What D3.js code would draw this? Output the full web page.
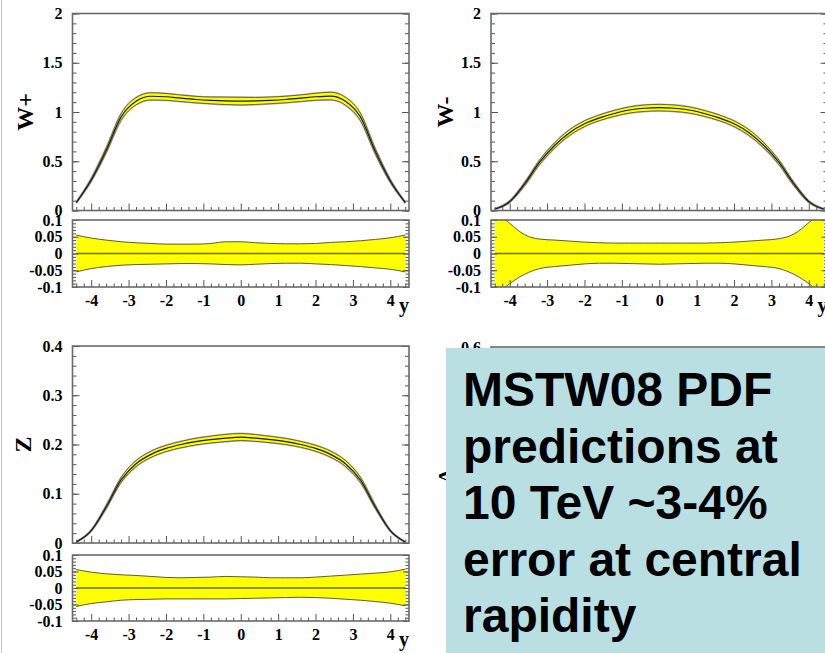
<!DOCTYPE html>
<html>
<head>
<meta charset="utf-8">
<script src="https://cdn.jsdelivr.net/npm/d3@7"></script>
<style>
  html, body { margin: 0; padding: 0; background: #fff; }
  svg { display: block; }
</style>
</head>
<body>
<svg id="chart" width="825" height="653"></svg>
<script>
// Boson rapidity y
const rapidity = [-4.4, -4.0, -3.6, -3.2, -2.8, -2.4, -2.0, -1.6, -1.2, -0.8, -0.4, 0,
                  0.4, 0.8, 1.2, 1.6, 2.0, 2.4, 2.8, 3.2, 3.6, 4.0, 4.4];

// Central predictions dσ/dy
const wPlus  = [0.08, 0.31, 0.61, 0.95, 1.11, 1.16, 1.155, 1.14, 1.127, 1.118, 1.112, 1.11,
                1.112, 1.118, 1.127, 1.14, 1.155, 1.162, 1.11, 0.95, 0.60, 0.30, 0.08];
const wMinus = [0.015, 0.09, 0.27, 0.49, 0.66, 0.79, 0.88, 0.94, 0.985, 1.02, 1.038, 1.045,
                1.038, 1.02, 0.985, 0.94, 0.88, 0.79, 0.66, 0.49, 0.27, 0.09, 0.015];
const zBoson = [0.002, 0.025, 0.073, 0.128, 0.161, 0.18, 0.192, 0.2, 0.206, 0.21, 0.213, 0.215,
                0.213, 0.21, 0.206, 0.2, 0.192, 0.18, 0.161, 0.128, 0.073, 0.025, 0.002];

// Relative PDF uncertainties (upper / lower)
const wPlusErrUp    = [0.055, 0.046, 0.040, 0.035, 0.032, 0.030, 0.028, 0.028, 0.028, 0.030, 0.035, 0.035,
                       0.032, 0.030, 0.029, 0.029, 0.030, 0.033, 0.035, 0.038, 0.042, 0.047, 0.055];
const wPlusErrDown  = [0.055, 0.045, 0.039, 0.035, 0.033, 0.032, 0.031, 0.030, 0.030, 0.031, 0.033, 0.034,
                       0.032, 0.030, 0.029, 0.029, 0.031, 0.033, 0.036, 0.039, 0.043, 0.047, 0.055];
const wMinusErrUp   = [0.13, 0.090, 0.056, 0.043, 0.040, 0.037, 0.034, 0.032, 0.031, 0.031, 0.031, 0.031,
                       0.031, 0.031, 0.031, 0.032, 0.034, 0.037, 0.040, 0.044, 0.058, 0.092, 0.13];
const wMinusErrDown = [0.13, 0.090, 0.062, 0.045, 0.039, 0.035, 0.031, 0.029, 0.029, 0.030, 0.031, 0.032,
                       0.031, 0.030, 0.029, 0.029, 0.031, 0.035, 0.039, 0.045, 0.062, 0.090, 0.13];
const zErrUp        = [0.056, 0.048, 0.043, 0.040, 0.038, 0.035, 0.032, 0.031, 0.032, 0.033, 0.035, 0.034,
                       0.033, 0.031, 0.031, 0.031, 0.033, 0.036, 0.039, 0.042, 0.045, 0.049, 0.057];
const zErrDown      = [0.056, 0.047, 0.042, 0.037, 0.035, 0.034, 0.033, 0.033, 0.033, 0.033, 0.033, 0.032,
                       0.031, 0.030, 0.029, 0.028, 0.029, 0.031, 0.034, 0.037, 0.041, 0.046, 0.054];

// Axis ticks and labels
const xTicks        = [-4, -3, -2, -1, 0, 1, 2, 3, 4];
const xTickLabels   = ["-4", "-3", "-2", "-1", "0", "1", "2", "3", "4"];
const wTicks        = [0, 0.5, 1, 1.5, 2];
const wTickLabels   = ["0", "0.5", "1", "1.5", "2"];
const zTicks        = [0, 0.1, 0.2, 0.3, 0.4];
const zTickLabels   = ["0", "0.1", "0.2", "0.3", "0.4"];
const ratioTicks    = [-0.1, -0.05, 0, 0.05, 0.1];
const ratioLabels   = ["-0.1", "-0.05", "0", "0.05", "0.1"];

const noteLines = ["MSTW08 PDF", "predictions at", "10 TeV ~3-4%", "error at central", "rapidity"];

const panels = [
  { title: "W+", titleX: 33, centre: wPlus, up: wPlusErrUp, down: wPlusErrDown,
    yMax: 2, yTicks: wTicks, yLabels: wTickLabels, yMinor: 0.1,
    left: 72.5, right: 409, mainTop: 13.5, mainBottom: 210.5, ratioTop: 220, ratioBottom: 287 },
  { title: "W-", titleX: 453, centre: wMinus, up: wMinusErrUp, down: wMinusErrDown,
    yMax: 2, yTicks: wTicks, yLabels: wTickLabels, yMinor: 0.1,
    left: 491, right: 827.5, mainTop: 13.5, mainBottom: 210.5, ratioTop: 220, ratioBottom: 287 },
  { title: "Z", titleX: 31, centre: zBoson, up: zErrUp, down: zErrDown,
    yMax: 0.4, yTicks: zTicks, yLabels: zTickLabels, yMinor: 0.02,
    left: 72.5, right: 409, mainTop: 346, mainBottom: 543, ratioTop: 555, ratioBottom: 621 }
];

const svg = d3.select("#chart");
const serif = "'Liberation Serif', 'Times New Roman', serif";
const labelSize = 16;
const frameColor = "#6a6a6a";
const tickColor = "#555";

// thin page edge on the left
svg.append("line").attr("x1", 1.5).attr("x2", 1.5).attr("y1", 0).attr("y2", 653)
  .attr("stroke", "#c4c4c4").attr("stroke-width", 1);

function styleAxis(sel) {
  sel.select(".domain").remove();
  sel.selectAll(".tick line").attr("stroke", tickColor).attr("stroke-width", 1);
  sel.selectAll(".tick text")
    .attr("font-family", serif).attr("font-weight", "bold").attr("font-size", labelSize).attr("fill", "#000");
  sel.attr("font-family", null).attr("font-size", null);
}

function yAxes(g, scale, left, right, major, labels, minorValues, majorLen, minorLen) {
  g.append("g").attr("transform", `translate(${left},0)`)
    .call(d3.axisLeft(scale).tickValues(minorValues).tickSize(-minorLen).tickFormat(""))
    .call(styleAxis);
  g.append("g").attr("transform", `translate(${left},0)`)
    .call(d3.axisLeft(scale).tickValues(major).tickSize(-majorLen).tickPadding(10)
      .tickFormat((d, i) => labels[i]))
    .call(styleAxis);
  g.append("g").attr("transform", `translate(${right},0)`)
    .call(d3.axisRight(scale).tickValues(minorValues).tickSize(-minorLen).tickFormat(""))
    .call(styleAxis);
  g.append("g").attr("transform", `translate(${right},0)`)
    .call(d3.axisRight(scale).tickValues(major).tickSize(-majorLen).tickFormat(""))
    .call(styleAxis);
}

function xAxis(g, scale, bottom, withLabels) {
  const minor = d3.range(-4.4, 4.5, 0.2).map(v => Math.round(v * 10) / 10)
    .filter(v => Math.abs(v - Math.round(v)) > 1e-6);
  g.append("g").attr("transform", `translate(0,${bottom})`)
    .call(d3.axisBottom(scale).tickValues(minor).tickSize(-3.5).tickFormat(""))
    .call(styleAxis);
  g.append("g").attr("transform", `translate(0,${bottom})`)
    .call(d3.axisBottom(scale).tickValues(xTicks).tickSize(-7).tickPadding(8)
      .tickFormat((d, i) => withLabels ? xTickLabels[i] : ""))
    .call(styleAxis);
}

panels.forEach((p, idx) => {
  const g = svg.append("g");
  const x = d3.scaleLinear().domain([-4.5, 4.5]).range([p.left, p.right]);
  const y = d3.scaleLinear().domain([0, p.yMax]).range([p.mainBottom, p.mainTop]);
  const r = d3.scaleLinear().domain([-0.1, 0.1]).range([p.ratioBottom, p.ratioTop]);

  const pts = rapidity.map((v, k) => ({ y: v, c: p.centre[k], u: p.up[k], d: p.down[k] }));
  const curve = d3.curveMonotoneX;

  const defs = svg.append("defs");
  defs.append("clipPath").attr("id", `clipMain${idx}`).append("rect")
    .attr("x", p.left).attr("y", p.mainTop).attr("width", p.right - p.left).attr("height", p.mainBottom - p.mainTop);
  defs.append("clipPath").attr("id", `clipRatio${idx}`).append("rect")
    .attr("x", p.left).attr("y", p.ratioTop).attr("width", p.right - p.left).attr("height", p.ratioBottom - p.ratioTop);

  // ---- main pad: prediction with PDF band
  const main = g.append("g").attr("clip-path", `url(#clipMain${idx})`);
  const upperLine = d3.line().x(d => x(d.y)).y(d => y(d.c * (1 + d.u))).curve(curve);
  const lowerLine = d3.line().x(d => x(d.y)).y(d => y(d.c * (1 - d.d))).curve(curve);
  const centreLine = d3.line().x(d => x(d.y)).y(d => y(d.c)).curve(curve);
  const band = d3.area().x(d => x(d.y))
    .y0(d => y(d.c * (1 - d.d))).y1(d => y(d.c * (1 + d.u))).curve(curve);

  [upperLine, lowerLine].forEach(l => main.append("path").attr("d", l(pts))
    .attr("fill", "none").attr("stroke", "#b8b8b8").attr("stroke-width", 2));
  main.append("path").attr("d", band(pts)).attr("fill", "#ffff00");
  [upperLine, lowerLine].forEach(l => main.append("path").attr("d", l(pts))
    .attr("fill", "none").attr("stroke", "#444").attr("stroke-width", 0.8));
  main.append("path").attr("d", centreLine(pts))
    .attr("fill", "none").attr("stroke", "#1a1a1a").attr("stroke-width", 1.2);

  // ---- ratio pad: relative uncertainty
  const ratio = g.append("g").attr("clip-path", `url(#clipRatio${idx})`);
  const rBand = d3.area().x(d => x(d.y)).y0(d => r(-d.d)).y1(d => r(d.u)).curve(curve);
  const rUp = d3.line().x(d => x(d.y)).y(d => r(d.u)).curve(curve);
  const rDown = d3.line().x(d => x(d.y)).y(d => r(-d.d)).curve(curve);
  ratio.append("path").attr("d", rBand(pts)).attr("fill", "#ffff00")
    .attr("stroke", "#ffff00").attr("stroke-width", 0.5);
  [rUp, rDown].forEach(l => ratio.append("path").attr("d", l(pts))
    .attr("fill", "none").attr("stroke", "#4a4a4a").attr("stroke-width", 0.9));
  ratio.append("line")
    .attr("x1", x(rapidity[0])).attr("x2", x(rapidity[rapidity.length - 1]))
    .attr("y1", r(0)).attr("y2", r(0))
    .attr("stroke", "#6b6b00").attr("stroke-width", 1.6);

  // ---- axes
  const minorMain = d3.range(0, p.yMax + 1e-9, p.yMinor).map(v => +v.toFixed(3));
  yAxes(g, y, p.left, p.right, p.yTicks, p.yLabels, minorMain, 7, 4);
  xAxis(g, x, p.mainBottom, false);

  const minorRatio = d3.range(-0.1, 0.1001, 0.01).map(v => +v.toFixed(3));
  yAxes(g, r, p.left, p.right, ratioTicks, ratioLabels, minorRatio, 6, 3.5);
  xAxis(g, x, p.ratioBottom, true);

  // ---- frames
  [[p.mainTop, p.mainBottom], [p.ratioTop, p.ratioBottom]].forEach(([t, b]) =>
    g.append("rect").attr("x", p.left).attr("y", t).attr("width", p.right - p.left).attr("height", b - t)
      .attr("fill", "none").attr("stroke", frameColor).attr("stroke-width", 1.6));

  // ---- titles
  g.append("text")
    .attr("transform", `translate(${p.titleX},${(p.mainTop + p.mainBottom) / 2}) rotate(-90)`)
    .attr("text-anchor", "middle")
    .attr("font-family", serif).attr("font-weight", "bold").attr("font-size", 24)
    .text(p.title);
  g.append("text")
    .attr("x", p.right).attr("y", p.ratioBottom + 25)
    .attr("text-anchor", "end")
    .attr("font-family", serif).attr("font-weight", "bold").attr("font-size", 20)
    .text("y");
});

// ---- fourth pad, mostly covered by the note
const hidden = svg.append("g");
hidden.append("rect").attr("x", 491).attr("y", 347).attr("width", 336.5).attr("height", 197)
  .attr("fill", "none").attr("stroke", frameColor).attr("stroke-width", 1.6);
hidden.append("text").attr("x", 481).attr("y", 347).attr("dy", "0.35em").attr("text-anchor", "end")
  .attr("font-family", serif).attr("font-weight", "bold").attr("font-size", labelSize).text("0.6");
hidden.append("text").attr("transform", "translate(453,476) rotate(-90)").attr("text-anchor", "middle")
  .attr("font-family", serif).attr("font-weight", "bold").attr("font-size", 22).text("A");

// ---- note box
const note = svg.append("g");
note.append("rect").attr("x", 446).attr("y", 348).attr("width", 380).attr("height", 306)
  .attr("fill", "#badfe3");
note.selectAll("text").data(noteLines).join("text")
  .attr("x", 463).attr("y", (d, i) => 406 + i * 56.5)
  .attr("font-family", "'Liberation Sans', Arial, sans-serif")
  .attr("font-weight", "bold").attr("font-size", 48).attr("fill", "#000")
  .text(d => d);
</script>
</body>
</html>
